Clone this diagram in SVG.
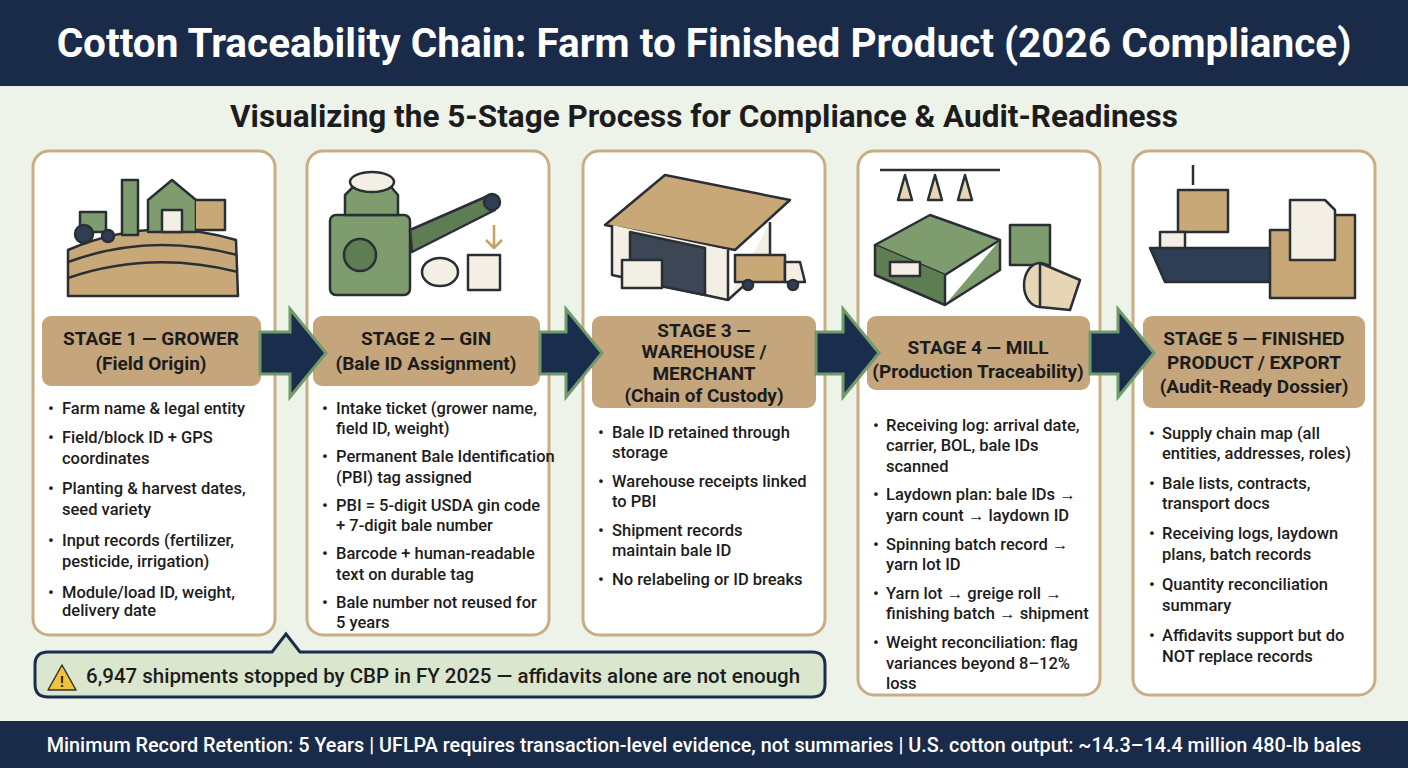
<svg xmlns="http://www.w3.org/2000/svg" width="1408" height="768" viewBox="0 0 1408 768">
<defs>
<style>
.card{fill:#fff;stroke:#c9ad84;stroke-width:3}
.hdr{fill:#c4a57c}
.ht{font-family:Roboto,"Liberation Sans",sans-serif;font-weight:700;font-size:19px;fill:#1c1c1c;text-anchor:middle}
.b{font-family:Roboto,"Liberation Sans",sans-serif;font-weight:500;font-size:16.5px;fill:#1c1c1c}
.arr{fill:#1b2d4d;stroke:#6f9a6a;stroke-width:3;stroke-linejoin:miter}
.ln{stroke:#2a2f36;stroke-width:2.5;stroke-linejoin:round}
.g{fill:#7f9c6e}.gd{fill:#5f7d52}.t{fill:#c9a878}.tl{fill:#e7d6b6}.w{fill:#f4efe4}.nv{fill:#2d3e55}
</style>
</defs>
<rect width="1408" height="768" fill="#eef3ea"/>
<rect width="1408" height="86" fill="#1a2b4a"/>
<text x="704" y="57" text-anchor="middle" font-family="Roboto,'Liberation Sans',sans-serif" font-weight="700" font-size="40.5" fill="#fff">Cotton Traceability Chain: Farm to Finished Product (2026 Compliance)</text>
<text x="704" y="127" text-anchor="middle" font-family="Roboto,'Liberation Sans',sans-serif" font-weight="700" font-size="31.5" fill="#1c1c1c">Visualizing the 5-Stage Process for Compliance &amp; Audit-Readiness</text>

<g id="stage1">
<rect class="card" x="33" y="151" width="242" height="484" rx="16"/>
<g class="ln">
<path d="M68 250 Q150 215 236 240 L238 296 H68 Z" class="t"/>
<path d="M68 262 Q150 232 237 255" fill="none"/><path d="M68 278 Q150 250 238 272" fill="none"/>
<rect x="122" y="180" width="16" height="55" class="g"/>
<path d="M148 200 L172 180 L196 200 V232 H148 Z" class="g"/>
<path d="M196 200 H225 V230 H196" class="t"/>
<rect x="162" y="210" width="20" height="22" class="w"/>
<rect x="80" y="212" width="26" height="20" class="g"/><circle cx="84" cy="234" r="9" class="nv"/><circle cx="108" cy="236" r="6" class="nv"/>
</g>
<rect class="hdr" x="42" y="316" width="219" height="70" rx="9"/>
<text class="ht" x="151" y="345">STAGE 1 — GROWER</text>
<text class="ht" x="151" y="370">(Field Origin)</text>
<text class="b"><tspan x="48" y="414">•</tspan><tspan x="62" y="414">Farm name &amp; legal entity</tspan><tspan x="48" y="443">•</tspan><tspan x="62" y="443">Field/block ID + GPS</tspan><tspan x="62" y="464">coordinates</tspan><tspan x="48" y="494">•</tspan><tspan x="62" y="494">Planting &amp; harvest dates,</tspan><tspan x="62" y="515">seed variety</tspan><tspan x="48" y="546">•</tspan><tspan x="62" y="546">Input records (fertilizer,</tspan><tspan x="62" y="567">pesticide, irrigation)</tspan><tspan x="48" y="598">•</tspan><tspan x="62" y="598">Module/load ID, weight,</tspan><tspan x="62" y="616">delivery date</tspan></text>
</g>

<g id="stage2">
<rect class="card" x="307" y="151" width="242" height="484" rx="16"/>
<g class="ln">
<rect x="330" y="215" width="80" height="80" rx="6" class="g"/>
<path d="M345 195 L360 180 H385 L398 195 V215 H345 Z" class="g"/>
<ellipse cx="372" cy="182" rx="22" ry="10" class="w"/>
<circle cx="360" cy="255" r="16" class="gd"/>
<path d="M410 230 L490 195 L495 210 L412 252 Z" class="gd"/>
<circle cx="492" cy="202" r="8" class="nv"/>
<path d="M468 255 H500 V290 H468 Z" class="w"/>
<ellipse cx="440" cy="272" rx="18" ry="14" class="w"/>
<path d="M494 225 V248 L486 240 M494 248 L502 240" fill="none" stroke="#c9a060"/>
</g>
<rect class="hdr" x="313" y="316" width="227" height="70" rx="9"/>
<text class="ht" x="426" y="345">STAGE 2 — GIN</text>
<text class="ht" x="426" y="370">(Bale ID Assignment)</text>
<text class="b"><tspan x="322" y="414">•</tspan><tspan x="336" y="414">Intake ticket (grower name,</tspan><tspan x="336" y="434">field ID, weight)</tspan><tspan x="322" y="462">•</tspan><tspan x="336" y="462">Permanent Bale Identification</tspan><tspan x="336" y="483">(PBI) tag assigned</tspan><tspan x="322" y="511">•</tspan><tspan x="336" y="511">PBI = 5-digit USDA gin code</tspan><tspan x="336" y="531">+ 7-digit bale number</tspan><tspan x="322" y="559">•</tspan><tspan x="336" y="559">Barcode + human-readable</tspan><tspan x="336" y="580">text on durable tag</tspan><tspan x="322" y="608">•</tspan><tspan x="336" y="608">Bale number not reused for</tspan><tspan x="336" y="628">5 years</tspan></text>
</g>

<g id="stage3">
<rect class="card" x="583" y="151" width="242" height="484" rx="16"/>
<g class="ln">
<path d="M605 225 L665 175 L790 200 L735 250 Z" class="t"/>
<path d="M612 225 V275 L728 300 V250" class="w"/>
<path d="M728 300 L770 262 V222" class="w"/>
<path d="M630 232 L705 248 V295 L630 280 Z" fill="#3c4654"/>
<rect x="622" y="260" width="40" height="28" class="w"/>
<path d="M735 255 H785 V282 H735 Z" class="t"/><path d="M785 262 H800 L805 282 H785 Z" class="w"/>
<circle cx="748" cy="285" r="5" class="nv"/><circle cx="793" cy="285" r="5" class="nv"/>
</g>
<rect class="hdr" x="592" y="316" width="224" height="92" rx="9"/>
<text class="ht" x="704" y="337" font-size="18">STAGE 3 —</text>
<text class="ht" x="704" y="358" font-size="18">WAREHOUSE /</text>
<text class="ht" x="704" y="380" font-size="18">MERCHANT</text>
<text class="ht" x="704" y="402" font-weight="500" font-size="18">(Chain of Custody)</text>
<text class="b"><tspan x="598" y="438">•</tspan><tspan x="612" y="438">Bale ID retained through</tspan><tspan x="612" y="458">storage</tspan><tspan x="598" y="487">•</tspan><tspan x="612" y="487">Warehouse receipts linked</tspan><tspan x="612" y="507">to PBI</tspan><tspan x="598" y="536">•</tspan><tspan x="612" y="536">Shipment records</tspan><tspan x="612" y="556">maintain bale ID</tspan><tspan x="598" y="585">•</tspan><tspan x="612" y="585">No relabeling or ID breaks</tspan></text>
</g>

<g id="stage4">
<rect class="card" x="858" y="151" width="242" height="544" rx="16"/>
<g class="ln">
<path d="M880 170 H1000" fill="none"/>
<path d="M905 175 L912 200 L898 200 Z M935 175 L942 200 L928 200 Z M965 175 L972 200 L958 200 Z" class="tl"/>
<path d="M875 245 L930 215 L1000 240 L945 275 Z" class="g"/>
<path d="M875 245 V275 L945 305 V275" class="gd"/>
<path d="M945 305 L1000 270 V240" class="g"/>
<rect x="1010" y="225" width="40" height="40" class="g"/>
<rect x="890" y="262" width="30" height="14" class="w"/>
<ellipse cx="1040" cy="285" rx="16" ry="22" class="tl"/>
<path d="M1040 263 L1080 280 L1070 310 L1040 307 Z" class="tl"/>
</g>
<rect class="hdr" x="867" y="316" width="223" height="74" rx="9"/>
<text class="ht" x="978" y="354">STAGE 4 — MILL</text>
<text class="ht" x="978" y="378" font-weight="500">(Production Traceability)</text>
<text class="b"><tspan x="873" y="431">•</tspan><tspan x="886" y="431">Receiving log: arrival date,</tspan><tspan x="886" y="451">carrier, BOL, bale IDs</tspan><tspan x="886" y="472">scanned</tspan><tspan x="873" y="500">•</tspan><tspan x="886" y="500">Laydown plan: bale IDs →</tspan><tspan x="886" y="521">yarn count → laydown ID</tspan><tspan x="873" y="550">•</tspan><tspan x="886" y="550">Spinning batch record →</tspan><tspan x="886" y="570">yarn lot ID</tspan><tspan x="873" y="599">•</tspan><tspan x="886" y="599">Yarn lot → greige roll →</tspan><tspan x="886" y="619">finishing batch → shipment</tspan><tspan x="873" y="648">•</tspan><tspan x="886" y="648">Weight reconciliation: flag</tspan><tspan x="886" y="669">variances beyond 8–12%</tspan><tspan x="886" y="689">loss</tspan></text>
</g>

<g id="stage5">
<rect class="card" x="1133" y="151" width="242" height="544" rx="16"/>
<g class="ln">
<path d="M1193 165 V185" fill="none"/>
<rect x="1178" y="190" width="50" height="42" class="t"/>
<path d="M1150 248 H1290 L1270 282 H1165 Z" class="nv"/>
<rect x="1160" y="232" width="25" height="16" class="w"/>
<path d="M1270 230 H1305 L1320 215 H1355 V298 H1270 Z" class="t"/>
<path d="M1290 200 H1325 L1335 210 V260 H1290 Z" class="w"/>
</g>
<rect class="hdr" x="1143" y="316" width="222" height="92" rx="9"/>
<text class="ht" x="1254" y="345">STAGE 5 — FINISHED</text>
<text class="ht" x="1254" y="369">PRODUCT / EXPORT</text>
<text class="ht" x="1254" y="393" font-weight="500">(Audit-Ready Dossier)</text>
<text class="b"><tspan x="1149" y="439">•</tspan><tspan x="1162" y="439">Supply chain map (all</tspan><tspan x="1162" y="459">entities, addresses, roles)</tspan><tspan x="1149" y="489">•</tspan><tspan x="1162" y="489">Bale lists, contracts,</tspan><tspan x="1162" y="509">transport docs</tspan><tspan x="1149" y="539">•</tspan><tspan x="1162" y="539">Receiving logs, laydown</tspan><tspan x="1162" y="560">plans, batch records</tspan><tspan x="1149" y="590">•</tspan><tspan x="1162" y="590">Quantity reconciliation</tspan><tspan x="1162" y="611">summary</tspan><tspan x="1149" y="641">•</tspan><tspan x="1162" y="641">Affidavits support but do</tspan><tspan x="1162" y="662">NOT replace records</tspan></text>
</g>

<g id="connectors">
<path class="arr" d="M260 332 H290 V309 L326 353 L290 397 V374 H260 Z"/>
<path class="arr" d="M540 332 H566 V309 L602 353 L566 397 V374 H540 Z"/>
<path class="arr" d="M816 332 H843 V309 L879 353 L843 397 V374 H816 Z"/>
<path class="arr" d="M1090 332 H1118 V309 L1154 353 L1118 397 V374 H1090 Z"/>
</g>

<g id="callout">
<path d="M48 652 H272 L286 634 L300 652 H812 Q825 652 825 665 V684 Q825 697 812 697 H48 Q35 697 35 684 V665 Q35 652 48 652 Z" fill="#dbe6cf" stroke="#1b2d4d" stroke-width="3"/>
<path d="M62 665 L76 690 H48 Z" fill="#f2c23a" stroke="#333" stroke-width="1.5" stroke-linejoin="round"/>
<text x="62" y="687" text-anchor="middle" font-family="Roboto,sans-serif" font-weight="700" font-size="14" fill="#222">!</text>
<text x="86" y="683" font-family="Roboto,'Liberation Sans',sans-serif" font-weight="500" font-size="20.5" fill="#1c1c1c">6,947 shipments stopped by CBP in FY 2025 — affidavits alone are not enough</text>
</g>

<rect y="721" width="1408" height="47" fill="#1a2b4a"/>
<text x="704" y="752" text-anchor="middle" font-family="Roboto,'Liberation Sans',sans-serif" font-weight="500" font-size="19.8" fill="#fff">Minimum Record Retention: 5 Years | UFLPA requires transaction-level evidence, not summaries | U.S. cotton output: ~14.3–14.4 million 480-lb bales</text>
</svg>
